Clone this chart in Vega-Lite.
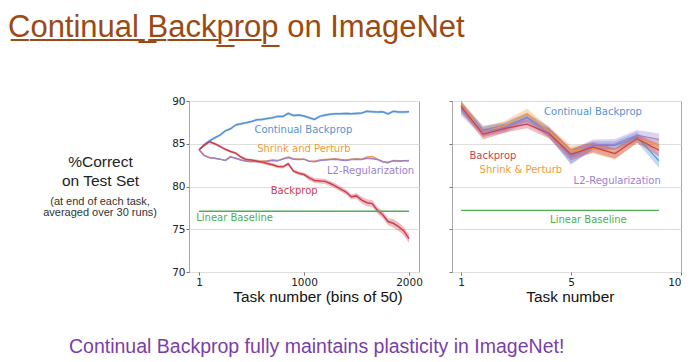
{
  "$schema": "https://vega.github.io/schema/vega-lite/v6.json",
  "autosize": {"type": "none"},
  "padding": {"left": 189, "top": 101, "right": 511, "bottom": 261},
  "background": "white",
  "title": {
    "text": "C\u0332o\u0332n\u0332t\u0332i\u0332n\u0332u\u0332a\u0332l\u0332 \u0332B\u0332a\u0332c\u0332k\u0332p\u0332r\u0332o\u0332p\u0332 on ImageNet",
    "anchor": "start", "frame": "group", "dx": -181, "offset": 28,
    "font": "Liberation Sans", "fontSize": 31, "fontWeight": "normal",
    "color": "#9a4a12", "baseline": "alphabetic"
  },
  "datasets": {
    "left": [
      {"method": "Continual Backprop", "task": 1, "mean": 84.3, "lo": 84.15, "hi": 84.45},
      {"method": "Continual Backprop", "task": 50, "mean": 84.9, "lo": 84.75, "hi": 85.05},
      {"method": "Continual Backprop", "task": 100, "mean": 85.35, "lo": 85.2, "hi": 85.5},
      {"method": "Continual Backprop", "task": 150, "mean": 85.7, "lo": 85.55, "hi": 85.85},
      {"method": "Continual Backprop", "task": 200, "mean": 86.0, "lo": 85.85, "hi": 86.15},
      {"method": "Continual Backprop", "task": 250, "mean": 86.5, "lo": 86.35, "hi": 86.65},
      {"method": "Continual Backprop", "task": 300, "mean": 86.75, "lo": 86.6, "hi": 86.9},
      {"method": "Continual Backprop", "task": 350, "mean": 87.2, "lo": 87.05, "hi": 87.35},
      {"method": "Continual Backprop", "task": 400, "mean": 87.35, "lo": 87.2, "hi": 87.5},
      {"method": "Continual Backprop", "task": 450, "mean": 87.45, "lo": 87.3, "hi": 87.6},
      {"method": "Continual Backprop", "task": 500, "mean": 87.6, "lo": 87.45, "hi": 87.75},
      {"method": "Continual Backprop", "task": 550, "mean": 87.8, "lo": 87.65, "hi": 87.95},
      {"method": "Continual Backprop", "task": 600, "mean": 87.85, "lo": 87.7, "hi": 88.0},
      {"method": "Continual Backprop", "task": 650, "mean": 87.95, "lo": 87.8, "hi": 88.1},
      {"method": "Continual Backprop", "task": 700, "mean": 88.05, "lo": 87.9, "hi": 88.2},
      {"method": "Continual Backprop", "task": 750, "mean": 88.2, "lo": 88.05, "hi": 88.35},
      {"method": "Continual Backprop", "task": 800, "mean": 88.2, "lo": 88.05, "hi": 88.35},
      {"method": "Continual Backprop", "task": 850, "mean": 88.55, "lo": 88.4, "hi": 88.7},
      {"method": "Continual Backprop", "task": 900, "mean": 88.3, "lo": 88.15, "hi": 88.45},
      {"method": "Continual Backprop", "task": 950, "mean": 88.35, "lo": 88.2, "hi": 88.5},
      {"method": "Continual Backprop", "task": 1000, "mean": 88.25, "lo": 88.1, "hi": 88.4},
      {"method": "Continual Backprop", "task": 1050, "mean": 88.05, "lo": 87.9, "hi": 88.2},
      {"method": "Continual Backprop", "task": 1100, "mean": 87.85, "lo": 87.7, "hi": 88.0},
      {"method": "Continual Backprop", "task": 1150, "mean": 88.2, "lo": 88.05, "hi": 88.35},
      {"method": "Continual Backprop", "task": 1200, "mean": 88.35, "lo": 88.2, "hi": 88.5},
      {"method": "Continual Backprop", "task": 1250, "mean": 88.45, "lo": 88.3, "hi": 88.6},
      {"method": "Continual Backprop", "task": 1300, "mean": 88.5, "lo": 88.35, "hi": 88.65},
      {"method": "Continual Backprop", "task": 1350, "mean": 88.5, "lo": 88.35, "hi": 88.65},
      {"method": "Continual Backprop", "task": 1400, "mean": 88.55, "lo": 88.4, "hi": 88.7},
      {"method": "Continual Backprop", "task": 1450, "mean": 88.5, "lo": 88.35, "hi": 88.65},
      {"method": "Continual Backprop", "task": 1500, "mean": 88.55, "lo": 88.4, "hi": 88.7},
      {"method": "Continual Backprop", "task": 1550, "mean": 88.6, "lo": 88.45, "hi": 88.75},
      {"method": "Continual Backprop", "task": 1600, "mean": 88.8, "lo": 88.65, "hi": 88.95},
      {"method": "Continual Backprop", "task": 1650, "mean": 88.75, "lo": 88.6, "hi": 88.9},
      {"method": "Continual Backprop", "task": 1700, "mean": 88.7, "lo": 88.55, "hi": 88.85},
      {"method": "Continual Backprop", "task": 1750, "mean": 88.75, "lo": 88.6, "hi": 88.9},
      {"method": "Continual Backprop", "task": 1800, "mean": 88.5, "lo": 88.35, "hi": 88.65},
      {"method": "Continual Backprop", "task": 1850, "mean": 88.8, "lo": 88.65, "hi": 88.95},
      {"method": "Continual Backprop", "task": 1900, "mean": 88.7, "lo": 88.55, "hi": 88.85},
      {"method": "Continual Backprop", "task": 1950, "mean": 88.7, "lo": 88.55, "hi": 88.85},
      {"method": "Continual Backprop", "task": 2000, "mean": 88.75, "lo": 88.6, "hi": 88.9},
      {"method": "Shrink and Perturb", "task": 1, "mean": 84.3},
      {"method": "Shrink and Perturb", "task": 50, "mean": 83.65},
      {"method": "Shrink and Perturb", "task": 100, "mean": 83.4},
      {"method": "Shrink and Perturb", "task": 150, "mean": 83.3},
      {"method": "Shrink and Perturb", "task": 200, "mean": 83.2},
      {"method": "Shrink and Perturb", "task": 250, "mean": 83.05},
      {"method": "Shrink and Perturb", "task": 300, "mean": 83.5},
      {"method": "Shrink and Perturb", "task": 350, "mean": 83.3},
      {"method": "Shrink and Perturb", "task": 400, "mean": 83.1},
      {"method": "Shrink and Perturb", "task": 450, "mean": 83.0},
      {"method": "Shrink and Perturb", "task": 500, "mean": 82.95},
      {"method": "Shrink and Perturb", "task": 550, "mean": 82.95},
      {"method": "Shrink and Perturb", "task": 600, "mean": 82.95},
      {"method": "Shrink and Perturb", "task": 650, "mean": 83.0},
      {"method": "Shrink and Perturb", "task": 700, "mean": 83.1},
      {"method": "Shrink and Perturb", "task": 750, "mean": 83.05},
      {"method": "Shrink and Perturb", "task": 800, "mean": 83.25},
      {"method": "Shrink and Perturb", "task": 850, "mean": 83.45},
      {"method": "Shrink and Perturb", "task": 900, "mean": 83.25},
      {"method": "Shrink and Perturb", "task": 950, "mean": 83.2},
      {"method": "Shrink and Perturb", "task": 1000, "mean": 83.2},
      {"method": "Shrink and Perturb", "task": 1050, "mean": 82.95},
      {"method": "Shrink and Perturb", "task": 1100, "mean": 82.95},
      {"method": "Shrink and Perturb", "task": 1150, "mean": 83.1},
      {"method": "Shrink and Perturb", "task": 1200, "mean": 83.15},
      {"method": "Shrink and Perturb", "task": 1250, "mean": 83.2},
      {"method": "Shrink and Perturb", "task": 1300, "mean": 83.25},
      {"method": "Shrink and Perturb", "task": 1350, "mean": 83.15},
      {"method": "Shrink and Perturb", "task": 1400, "mean": 83.1},
      {"method": "Shrink and Perturb", "task": 1450, "mean": 83.2},
      {"method": "Shrink and Perturb", "task": 1500, "mean": 83.25},
      {"method": "Shrink and Perturb", "task": 1550, "mean": 83.2},
      {"method": "Shrink and Perturb", "task": 1600, "mean": 83.45},
      {"method": "Shrink and Perturb", "task": 1650, "mean": 83.5},
      {"method": "Shrink and Perturb", "task": 1700, "mean": 83.2},
      {"method": "Shrink and Perturb", "task": 1750, "mean": 82.9},
      {"method": "Shrink and Perturb", "task": 1800, "mean": 82.75},
      {"method": "Shrink and Perturb", "task": 1850, "mean": 83.05},
      {"method": "Shrink and Perturb", "task": 1900, "mean": 83.0},
      {"method": "Shrink and Perturb", "task": 1950, "mean": 83.0},
      {"method": "Shrink and Perturb", "task": 2000, "mean": 83.05},
      {"method": "L2-Regularization", "task": 1, "mean": 84.3},
      {"method": "L2-Regularization", "task": 50, "mean": 83.6},
      {"method": "L2-Regularization", "task": 100, "mean": 83.35},
      {"method": "L2-Regularization", "task": 150, "mean": 83.3},
      {"method": "L2-Regularization", "task": 200, "mean": 83.2},
      {"method": "L2-Regularization", "task": 250, "mean": 83.05},
      {"method": "L2-Regularization", "task": 300, "mean": 83.45},
      {"method": "L2-Regularization", "task": 350, "mean": 83.3},
      {"method": "L2-Regularization", "task": 400, "mean": 83.1},
      {"method": "L2-Regularization", "task": 450, "mean": 82.95},
      {"method": "L2-Regularization", "task": 500, "mean": 82.9},
      {"method": "L2-Regularization", "task": 550, "mean": 82.95},
      {"method": "L2-Regularization", "task": 600, "mean": 82.9},
      {"method": "L2-Regularization", "task": 650, "mean": 82.95},
      {"method": "L2-Regularization", "task": 700, "mean": 83.05},
      {"method": "L2-Regularization", "task": 750, "mean": 83.0},
      {"method": "L2-Regularization", "task": 800, "mean": 83.2},
      {"method": "L2-Regularization", "task": 850, "mean": 83.4},
      {"method": "L2-Regularization", "task": 900, "mean": 83.2},
      {"method": "L2-Regularization", "task": 950, "mean": 83.15},
      {"method": "L2-Regularization", "task": 1000, "mean": 83.2},
      {"method": "L2-Regularization", "task": 1050, "mean": 82.95},
      {"method": "L2-Regularization", "task": 1100, "mean": 82.9},
      {"method": "L2-Regularization", "task": 1150, "mean": 83.05},
      {"method": "L2-Regularization", "task": 1200, "mean": 83.1},
      {"method": "L2-Regularization", "task": 1250, "mean": 83.15},
      {"method": "L2-Regularization", "task": 1300, "mean": 83.2},
      {"method": "L2-Regularization", "task": 1350, "mean": 83.1},
      {"method": "L2-Regularization", "task": 1400, "mean": 83.05},
      {"method": "L2-Regularization", "task": 1450, "mean": 83.15},
      {"method": "L2-Regularization", "task": 1500, "mean": 83.2},
      {"method": "L2-Regularization", "task": 1550, "mean": 83.15},
      {"method": "L2-Regularization", "task": 1600, "mean": 83.3},
      {"method": "L2-Regularization", "task": 1650, "mean": 83.25},
      {"method": "L2-Regularization", "task": 1700, "mean": 83.15},
      {"method": "L2-Regularization", "task": 1750, "mean": 82.9},
      {"method": "L2-Regularization", "task": 1800, "mean": 82.85},
      {"method": "L2-Regularization", "task": 1850, "mean": 83.0},
      {"method": "L2-Regularization", "task": 1900, "mean": 82.95},
      {"method": "L2-Regularization", "task": 1950, "mean": 83.0},
      {"method": "L2-Regularization", "task": 2000, "mean": 83.0},
      {"method": "Backprop", "task": 1, "mean": 84.3, "lo": 84.15, "hi": 84.45},
      {"method": "Backprop", "task": 50, "mean": 84.8, "lo": 84.65, "hi": 84.95},
      {"method": "Backprop", "task": 100, "mean": 85.25, "lo": 85.1, "hi": 85.4},
      {"method": "Backprop", "task": 150, "mean": 85.0, "lo": 84.85, "hi": 85.15},
      {"method": "Backprop", "task": 200, "mean": 84.7, "lo": 84.55, "hi": 84.85},
      {"method": "Backprop", "task": 250, "mean": 84.35, "lo": 84.2, "hi": 84.5},
      {"method": "Backprop", "task": 300, "mean": 84.1, "lo": 83.95, "hi": 84.25},
      {"method": "Backprop", "task": 350, "mean": 83.9, "lo": 83.75, "hi": 84.05},
      {"method": "Backprop", "task": 400, "mean": 83.45, "lo": 83.3, "hi": 83.6},
      {"method": "Backprop", "task": 450, "mean": 83.15, "lo": 83.0, "hi": 83.3},
      {"method": "Backprop", "task": 500, "mean": 83.1, "lo": 82.95, "hi": 83.25},
      {"method": "Backprop", "task": 550, "mean": 82.95, "lo": 82.75, "hi": 83.15},
      {"method": "Backprop", "task": 600, "mean": 82.85, "lo": 82.65, "hi": 83.05},
      {"method": "Backprop", "task": 650, "mean": 82.7, "lo": 82.5, "hi": 82.9},
      {"method": "Backprop", "task": 700, "mean": 82.55, "lo": 82.35, "hi": 82.75},
      {"method": "Backprop", "task": 750, "mean": 82.35, "lo": 82.15, "hi": 82.55},
      {"method": "Backprop", "task": 800, "mean": 82.3, "lo": 82.1, "hi": 82.5},
      {"method": "Backprop", "task": 850, "mean": 82.65, "lo": 82.45, "hi": 82.85},
      {"method": "Backprop", "task": 900, "mean": 81.8, "lo": 81.6, "hi": 82.0},
      {"method": "Backprop", "task": 950, "mean": 81.55, "lo": 81.35, "hi": 81.75},
      {"method": "Backprop", "task": 1000, "mean": 81.4, "lo": 81.2, "hi": 81.6},
      {"method": "Backprop", "task": 1050, "mean": 81.0, "lo": 80.7, "hi": 81.3},
      {"method": "Backprop", "task": 1100, "mean": 80.7, "lo": 80.4, "hi": 81.0},
      {"method": "Backprop", "task": 1150, "mean": 80.65, "lo": 80.35, "hi": 80.95},
      {"method": "Backprop", "task": 1200, "mean": 80.6, "lo": 80.3, "hi": 80.9},
      {"method": "Backprop", "task": 1250, "mean": 80.35, "lo": 80.05, "hi": 80.65},
      {"method": "Backprop", "task": 1300, "mean": 80.05, "lo": 79.75, "hi": 80.35},
      {"method": "Backprop", "task": 1350, "mean": 79.7, "lo": 79.4, "hi": 80.0},
      {"method": "Backprop", "task": 1400, "mean": 79.35, "lo": 79.05, "hi": 79.65},
      {"method": "Backprop", "task": 1450, "mean": 78.8, "lo": 78.5, "hi": 79.1},
      {"method": "Backprop", "task": 1500, "mean": 78.9, "lo": 78.6, "hi": 79.2},
      {"method": "Backprop", "task": 1550, "mean": 78.4, "lo": 78.0, "hi": 78.8},
      {"method": "Backprop", "task": 1600, "mean": 78.1, "lo": 77.7, "hi": 78.5},
      {"method": "Backprop", "task": 1650, "mean": 78.0, "lo": 77.6, "hi": 78.4},
      {"method": "Backprop", "task": 1700, "mean": 77.2, "lo": 76.8, "hi": 77.6},
      {"method": "Backprop", "task": 1750, "mean": 76.7, "lo": 76.3, "hi": 77.1},
      {"method": "Backprop", "task": 1800, "mean": 75.9, "lo": 75.5, "hi": 76.3},
      {"method": "Backprop", "task": 1850, "mean": 75.7, "lo": 75.2, "hi": 76.2},
      {"method": "Backprop", "task": 1900, "mean": 75.3, "lo": 74.8, "hi": 75.8},
      {"method": "Backprop", "task": 1950, "mean": 74.8, "lo": 74.3, "hi": 75.3},
      {"method": "Backprop", "task": 2000, "mean": 73.9, "lo": 73.4, "hi": 74.4},
      {"method": "Linear Baseline", "task": 1, "mean": 77.1},
      {"method": "Linear Baseline", "task": 2000, "mean": 77.1}
    ],
    "leftLabels": [
      {"method": "Continual Backprop", "label": "Continual Backprop", "task": 994, "pct": 86.6},
      {"method": "Shrink and Perturb", "label": "Shrink and Perturb", "task": 999, "pct": 84.35},
      {"method": "L2-Regularization", "label": "L2-Regularization", "task": 1634, "pct": 81.8},
      {"method": "Backprop", "label": "Backprop", "task": 906, "pct": 79.45},
      {"method": "Linear Baseline", "label": "Linear Baseline", "task": 339, "pct": 76.3}
    ],
    "note": [
      {"line": "(at end of each task,", "task": -942, "pct": 77.88},
      {"line": "averaged over 30 runs)", "task": -942, "pct": 76.6}
    ],
    "right": [
      {"method": "Continual Backprop", "task": 0, "mean": 89.2, "lo": 88.5, "hi": 89.9},
      {"method": "Continual Backprop", "task": 1, "mean": 86.6, "lo": 86.1, "hi": 87.1},
      {"method": "Continual Backprop", "task": 2, "mean": 87.0, "lo": 86.5, "hi": 87.5},
      {"method": "Continual Backprop", "task": 3, "mean": 88.1, "lo": 87.6, "hi": 88.6},
      {"method": "Continual Backprop", "task": 4, "mean": 86.4, "lo": 85.8, "hi": 87.0},
      {"method": "Continual Backprop", "task": 5, "mean": 83.45, "lo": 82.55, "hi": 84.35},
      {"method": "Continual Backprop", "task": 6, "mean": 84.8, "lo": 84.3, "hi": 85.3},
      {"method": "Continual Backprop", "task": 7, "mean": 84.8, "lo": 84.3, "hi": 85.3},
      {"method": "Continual Backprop", "task": 8, "mean": 85.8, "lo": 85.2, "hi": 86.4},
      {"method": "Continual Backprop", "task": 9, "mean": 83.0, "lo": 82.2, "hi": 83.8},
      {"method": "Shrink and Perturb", "task": 0, "mean": 89.5, "lo": 88.9, "hi": 90.1},
      {"method": "Shrink and Perturb", "task": 1, "mean": 86.4, "lo": 85.8, "hi": 87.0},
      {"method": "Shrink and Perturb", "task": 2, "mean": 87.1, "lo": 86.5, "hi": 87.7},
      {"method": "Shrink and Perturb", "task": 3, "mean": 88.5, "lo": 87.9, "hi": 89.1},
      {"method": "Shrink and Perturb", "task": 4, "mean": 86.4, "lo": 85.8, "hi": 87.0},
      {"method": "Shrink and Perturb", "task": 5, "mean": 84.1, "lo": 83.4, "hi": 84.8},
      {"method": "Shrink and Perturb", "task": 6, "mean": 84.45, "lo": 83.85, "hi": 85.05},
      {"method": "Shrink and Perturb", "task": 7, "mean": 83.85, "lo": 83.15, "hi": 84.55},
      {"method": "Shrink and Perturb", "task": 8, "mean": 85.6, "lo": 85.1, "hi": 86.1},
      {"method": "Shrink and Perturb", "task": 9, "mean": 84.8, "lo": 84.1, "hi": 85.5},
      {"method": "L2-Regularization", "task": 0, "mean": 89.0, "lo": 88.3, "hi": 89.7},
      {"method": "L2-Regularization", "task": 1, "mean": 86.4, "lo": 85.8, "hi": 87.0},
      {"method": "L2-Regularization", "task": 2, "mean": 86.9, "lo": 86.3, "hi": 87.5},
      {"method": "L2-Regularization", "task": 3, "mean": 88.0, "lo": 87.4, "hi": 88.6},
      {"method": "L2-Regularization", "task": 4, "mean": 86.3, "lo": 85.7, "hi": 86.9},
      {"method": "L2-Regularization", "task": 5, "mean": 83.5, "lo": 82.7, "hi": 84.3},
      {"method": "L2-Regularization", "task": 6, "mean": 84.9, "lo": 84.3, "hi": 85.5},
      {"method": "L2-Regularization", "task": 7, "mean": 84.95, "lo": 84.35, "hi": 85.55},
      {"method": "L2-Regularization", "task": 8, "mean": 86.0, "lo": 85.4, "hi": 86.6},
      {"method": "L2-Regularization", "task": 9, "mean": 85.5, "lo": 84.8, "hi": 86.2},
      {"method": "Backprop", "task": 0, "mean": 89.4, "lo": 88.8, "hi": 90.0},
      {"method": "Backprop", "task": 1, "mean": 86.1, "lo": 85.5, "hi": 86.7},
      {"method": "Backprop", "task": 2, "mean": 86.8, "lo": 86.3, "hi": 87.3},
      {"method": "Backprop", "task": 3, "mean": 87.3, "lo": 86.8, "hi": 87.8},
      {"method": "Backprop", "task": 4, "mean": 86.2, "lo": 85.6, "hi": 86.8},
      {"method": "Backprop", "task": 5, "mean": 83.75, "lo": 83.05, "hi": 84.45},
      {"method": "Backprop", "task": 6, "mean": 84.6, "lo": 84.0, "hi": 85.2},
      {"method": "Backprop", "task": 7, "mean": 83.85, "lo": 83.25, "hi": 84.45},
      {"method": "Backprop", "task": 8, "mean": 85.6, "lo": 85.1, "hi": 86.1},
      {"method": "Backprop", "task": 9, "mean": 84.25, "lo": 83.55, "hi": 84.95},
      {"method": "Linear Baseline", "task": 0, "mean": 77.2},
      {"method": "Linear Baseline", "task": 9, "mean": 77.2}
    ],
    "rightLabels": [
      {"method": "Continual Backprop", "label": "Continual Backprop", "task": 6.0, "pct": 88.7},
      {"method": "Backprop", "label": "Backprop", "task": 1.45, "pct": 83.6},
      {"method": "Shrink and Perturb", "label": "Shrink & Perturb", "task": 2.72, "pct": 81.9},
      {"method": "L2-Regularization", "label": "L2-Regularization", "task": 7.1, "pct": 80.7},
      {"method": "Linear Baseline", "label": "Linear Baseline", "task": 5.79, "pct": 76.05}
    ]
  },
  "vconcat": [
    {
      "title": {
        "text": "Continual Backprop fully maintains plasticity in ImageNet!",
        "orient": "bottom", "anchor": "start", "frame": "group", "dx": -120, "offset": 48,
        "font": "Liberation Sans", "fontSize": 19.5, "fontWeight": "normal",
        "color": "#7a3ea8", "baseline": "alphabetic"
      },
      "bounds": "flush",
      "spacing": 33,
      "hconcat": [
        {
          "width": 230,
          "height": 171,
          "layer": [
            {
              "data": {"name": "left"},
              "transform": [{"filter": "isValid(datum.lo)"}],
              "mark": {"type": "area", "opacity": 0.35, "clip": true},
              "encoding": {
                "x": {"field": "task", "type": "quantitative",
                  "scale": {"domain": [-95, 2095], "nice": false, "zero": false},
                  "axis": {"values": [1, 1000, 2000], "format": "d", "grid": false, "title": "Task number (bins of 50)", "titlePadding": 2, "titleX": 128.5, "titleAlign": "center"}},
                "y": {"field": "lo", "type": "quantitative",
                  "scale": {"domain": [70, 90], "nice": false, "zero": false},
                  "axis": {"values": [70, 75, 80, 85, 90], "grid": true, "labelPadding": 1,
                    "title": ["%Correct", "on Test Set"], "titleAngle": 0, "titleAlign": "center", "titleBaseline": "alphabetic",
                    "titleX": -89, "titleY": 65.3, "titleFontSize": 15.5, "titleLineHeight": 19, "titleColor": "#222"}},
                "y2": {"field": "hi"},
                "color": {"field": "method", "type": "nominal", "legend": null,
                  "scale": {"domain": ["Continual Backprop", "Shrink and Perturb", "L2-Regularization", "Backprop", "Linear Baseline"],
                    "range": ["#5592d6", "#f29b38", "#9b80d4", "#cc3f50", "#4caf50"]}}
              }
            },
            {
              "data": {"name": "left"},
              "mark": {"type": "line", "strokeWidth": 1.5, "clip": true},
              "encoding": {
                "x": {"field": "task", "type": "quantitative"},
                "y": {"field": "mean", "type": "quantitative"},
                "color": {"field": "method", "type": "nominal"}
              }
            },
            {
              "data": {"name": "leftLabels"},
              "mark": {"type": "text", "font": "DejaVu Sans", "fontSize": 10, "align": "center", "baseline": "middle"},
              "encoding": {
                "x": {"field": "task", "type": "quantitative"},
                "y": {"field": "pct", "type": "quantitative"},
                "text": {"field": "label"},
                "color": {"field": "method", "type": "nominal"}
              }
            },
            {
              "data": {"name": "note"},
              "mark": {"type": "text", "font": "Liberation Sans", "fontSize": 11, "align": "center", "baseline": "alphabetic", "color": "#333333"},
              "encoding": {
                "x": {"field": "task", "type": "quantitative"},
                "y": {"field": "pct", "type": "quantitative"},
                "text": {"field": "line"}
              }
            }
          ]
        },
        {
          "width": 229,
          "height": 171,
          "layer": [
            {
              "data": {"name": "right"},
              "transform": [{"filter": "isValid(datum.lo)"}],
              "mark": {"type": "area", "opacity": 0.35, "clip": true},
              "encoding": {
                "x": {"field": "task", "type": "quantitative",
                  "scale": {"domain": [-0.41, 10], "nice": false, "zero": false},
                  "axis": {"values": [0, 5, 10], "grid": false, "labelExpr": "datum.value == 0 ? '1' : datum.label", "title": "Task number", "titlePadding": 2, "titleX": 117.8, "titleAlign": "center"}},
                "y": {"field": "lo", "type": "quantitative",
                  "scale": {"domain": [70, 90], "nice": false, "zero": false},
                  "axis": {"values": [70, 75, 80, 85, 90], "grid": true, "labels": false, "title": null}},
                "y2": {"field": "hi"},
                "color": {"field": "method", "type": "nominal", "legend": null,
                  "scale": {"domain": ["Continual Backprop", "Shrink and Perturb", "L2-Regularization", "Backprop", "Linear Baseline"],
                    "range": ["#5592d6", "#f29b38", "#9b80d4", "#cc3f50", "#4caf50"]}}
              }
            },
            {
              "data": {"name": "right"},
              "mark": {"type": "line", "strokeWidth": 1.2, "clip": true},
              "encoding": {
                "x": {"field": "task", "type": "quantitative"},
                "y": {"field": "mean", "type": "quantitative"},
                "color": {"field": "method", "type": "nominal"}
              }
            },
            {
              "data": {"name": "rightLabels"},
              "mark": {"type": "text", "font": "DejaVu Sans", "fontSize": 10, "align": "center", "baseline": "middle"},
              "encoding": {
                "x": {"field": "task", "type": "quantitative"},
                "y": {"field": "pct", "type": "quantitative"},
                "text": {"field": "label"},
                "color": {"field": "method", "type": "nominal"}
              }
            }
          ]
        }
      ]
    }
  ],
  "config": {
    "font": "Liberation Sans",
    "view": {"stroke": "#a8a8a8", "strokeWidth": 1},
    "axis": {
      "domain": false,
      "labelFont": "DejaVu Sans", "labelFontSize": 10.5, "labelColor": "#222222",
      "tickColor": "#777777", "tickSize": 3, "labelPadding": 2,
      "gridColor": "#dedede", "gridWidth": 1,
      "titleFont": "Liberation Sans", "titleFontWeight": "normal", "titleFontSize": 15.4, "titleColor": "#111111"
    }
  }
}
